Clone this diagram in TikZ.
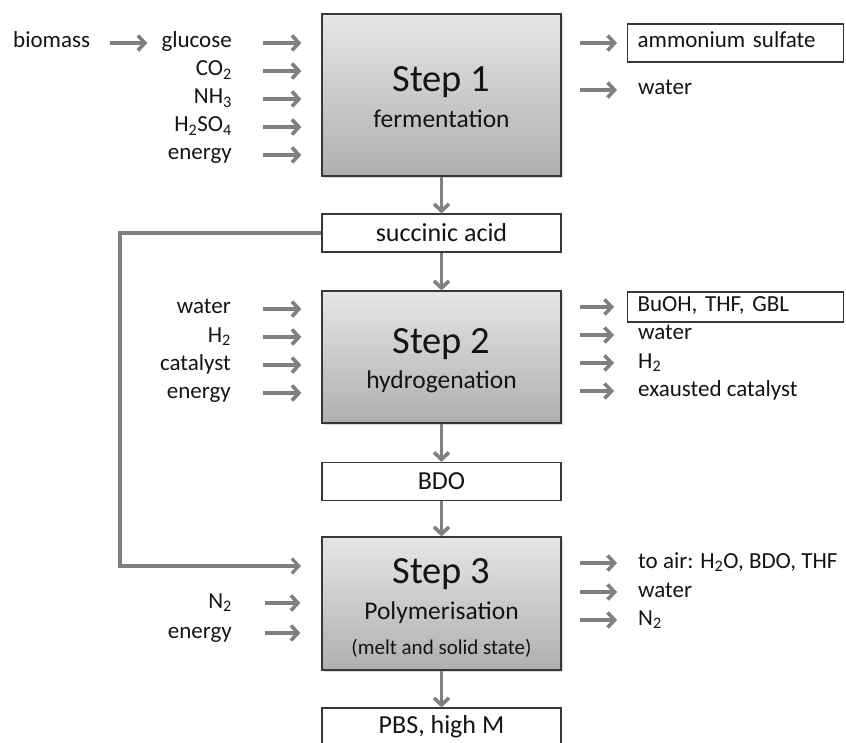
\documentclass[tikz,border=0pt]{standalone}
\usepackage{fontspec}
\setmainfont{Carlito}
\usetikzlibrary{arrows.meta,shadows}
\definecolor{arrgray}{RGB}{128,128,128}
\definecolor{boxtop}{RGB}{230,230,230}
\definecolor{boxbot}{RGB}{175,175,175}
\definecolor{boxline}{RGB}{55,55,55}
\definecolor{txt}{RGB}{20,20,20}
\tikzset{
  lbl/.style={inner xsep=0pt, inner ysep=0pt, text height=15pt, text depth=5pt, text=txt, font=\fontsize{23}{26}\selectfont},
  lblL/.style={lbl, anchor=east},
  lblR/.style={lbl, anchor=west},
  outbox/.style={lblR, draw=boxline, line width=1.2pt, fill=white, text width=196pt, align=left, inner xsep=10pt},
  stepbox/.style={draw=boxline, line width=1.2pt, top color=boxtop, bottom color=boxbot, minimum width=239pt,
     drop shadow={shadow xshift=2pt, shadow yshift=-2pt, opacity=0.3}},
  whitebox/.style={draw=boxline, line width=1.2pt, fill=white, minimum width=239pt, minimum height=38pt, text=txt,
     font=\fontsize{26}{30}\selectfont},
  ttl/.style={anchor=base, text=txt, font=\fontsize{38.5}{42}\selectfont},
  subttl/.style={anchor=base, text=txt, font=\fontsize{25.5}{28}\selectfont},
  smallttl/.style={anchor=base, text=txt, font=\fontsize{21}{24}\selectfont},
  arr/.style={draw=arrgray, line width=3.6pt, -{Straight Barb[length=7pt,width=15pt]}},
  fb/.style={draw=arrgray, line width=3.2pt, -{Straight Barb[length=7pt,width=15pt]}}
}
\begin{document}
\begin{tikzpicture}[x=1pt,y=-1pt]
\useasboundingbox (0,0) rectangle (846,743);

% ---- Step 1 ----
\node[stepbox, minimum height=162pt] (s1) at (441.5,95) {};
\node[ttl] (t1) at (441.5,92) {Step 1};
\node[subttl] (f1) at (441.5,128) {fermentation};

\node[lblR] (bio) at (13,43) {biomass};
\node[lblL] (glu) at (232,43) {glucose};
\node[lblL] (co2) at (232,71) {CO\textsubscript{2}};
\node[lblL] (nh3) at (232,99) {NH\textsubscript{3}};
\node[lblL] (h2so4) at (232,127) {H\textsubscript{2}SO\textsubscript{4}};
\node[lblL] (en1) at (232,155) {energy};
\draw[arr, shorten <=20pt, shorten >=14pt] (bio.east) -- (glu.west);
\foreach \n in {glu,co2,nh3,h2so4,en1}
  \draw[arr, shorten <=31pt, shorten >=20pt] (\n.east) -- (\n.east -| s1.west);

\node[outbox, minimum height=38pt] (amm) at (627,43) {ammonium sulfate};
\node[lblR] (wat1) at (638,90) {water};
\draw[arr, shorten <=18pt, shorten >=10pt] (amm.west -| s1.east) -- (amm.west);
\draw[arr, shorten <=18pt, shorten >=21pt] (wat1.west -| s1.east) -- (wat1.west);

% ---- succinic acid ----
\node[whitebox] (succ) at (441.5,233) {succinic acid};
\draw[arr] (s1.south) -- (succ.north);

% ---- Step 2 ----
\node[stepbox, minimum height=132pt] (s2) at (441.5,357) {};
\node[ttl] (t2) at (441.5,353) {Step 2};
\node[subttl] (f2) at (441.5,388) {hydrogenation};
\draw[arr] (succ.south) -- (s2.north);

\node[lblL] (wat2) at (231,309) {water};
\node[lblL] (h2) at (231,337) {H\textsubscript{2}};
\node[lblL] (cat) at (231,365) {catalyst};
\node[lblL] (en2) at (231,393) {energy};
\foreach \n in {wat2,h2,cat,en2}
  \draw[arr, shorten <=32pt, shorten >=20pt] (\n.east) -- (\n.east -| s2.west);

\node[outbox, minimum height=30pt] (buoh) at (627,307) {BuOH, THF, GBL};
\node[lblR] (wat3) at (638,335) {water};
\node[lblR] (h2o) at (638,363) {H\textsubscript{2}};
\node[lblR] (exc) at (638,391) {exausted catalyst};
\draw[arr, shorten <=18pt, shorten >=13pt] (buoh.west -| s2.east) -- (buoh.west);
\foreach \n in {wat3,h2o,exc}
  \draw[arr, shorten <=18pt, shorten >=24pt] (\n.west -| s2.east) -- (\n.west);

% ---- BDO ----
\node[whitebox] (bdo) at (441.5,481.5) {BDO};
\draw[arr] (s2.south) -- (bdo.north);

% ---- Step 3 ----
\node[stepbox, minimum height=133pt] (s3) at (441.5,603.5) {};
\node[ttl] (t3) at (441.5,583) {Step 3};
\node[subttl] (f3) at (441.5,619) {Polymerisation};
\node[smallttl] (m3) at (441.5,654) {(melt and solid state)};
\draw[arr] (bdo.south) -- (s3.north);

\node[lblL] (n2) at (232,603) {N\textsubscript{2}};
\node[lblL] (en3) at (232,633) {energy};
\foreach \n in {n2,en3}
  \draw[arr, shorten <=33pt, shorten >=21pt] (\n.east) -- (\n.east -| s3.west);

\coordinate (fbc) at (120,566);
\coordinate (fbend) at (301,566);
\draw[fb] (succ.west) -| (fbc) -- (fbend);

\node[lblR] (air) at (638,563) {to air: H\textsubscript{2}O, BDO, THF};
\node[lblR] (wat4) at (638,592) {water};
\node[lblR] (n2o) at (638,620) {N\textsubscript{2}};
\foreach \n in {air,wat4,n2o}
  \draw[arr, shorten <=18pt, shorten >=21pt] (\n.west -| s3.east) -- (\n.west);

% ---- PBS ----
\node[whitebox] (pbs) at (441.5,727) {PBS, high M};
\draw[arr] (s3.south) -- (pbs.north);
\end{tikzpicture}
\end{document}
